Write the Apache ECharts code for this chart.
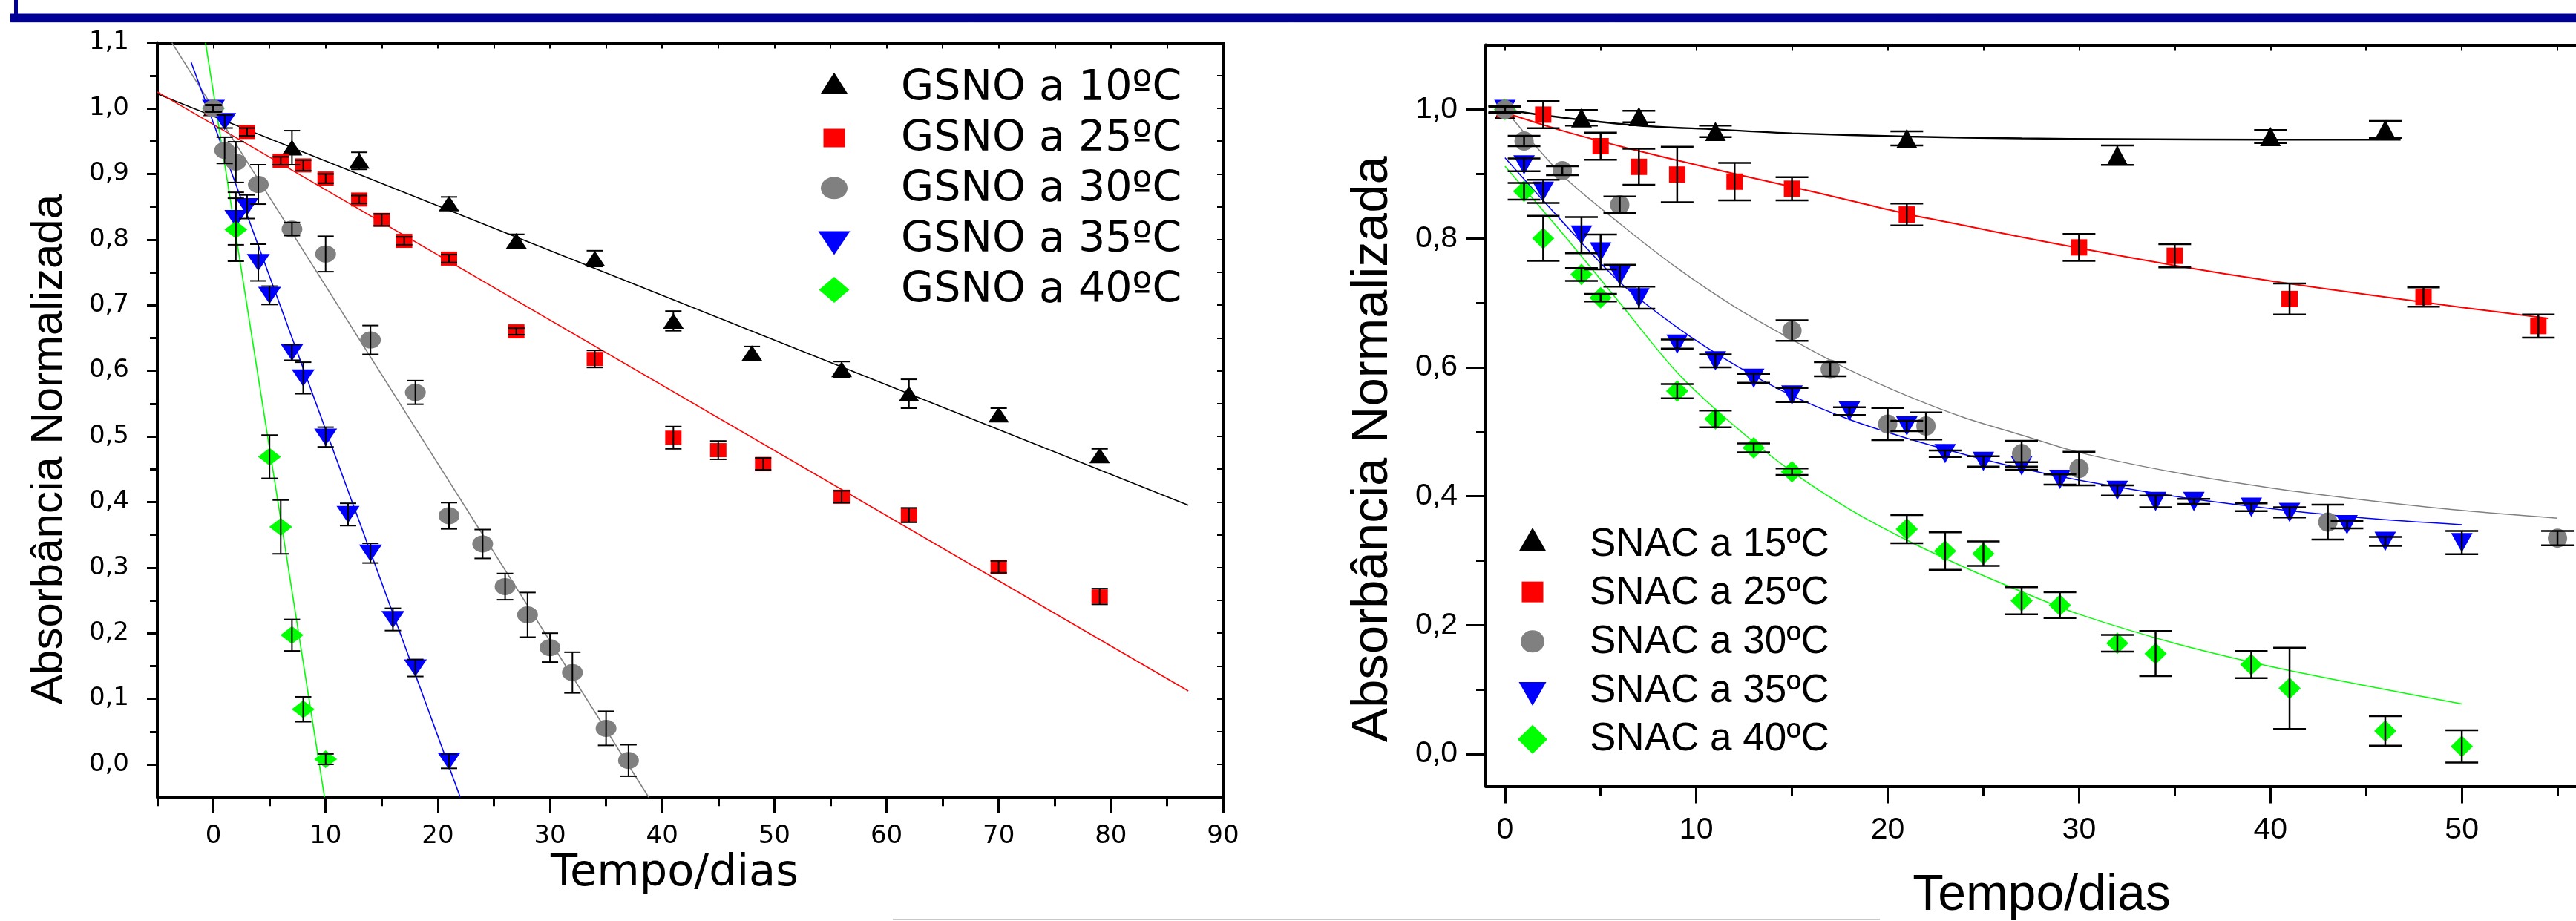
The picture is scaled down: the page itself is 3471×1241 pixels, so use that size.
<!DOCTYPE html>
<html lang="pt">
<head>
<meta charset="utf-8">
<title>Absorbância normalizada de GSNO e SNAC em função do tempo</title>
<script src="https://cdn.jsdelivr.net/npm/echarts@6.0.0/dist/echarts.min.js"></script>
<style>
  html, body { margin: 0; padding: 0; background: #ffffff; }
  #chart { width: 3471px; height: 1241px; }
</style>
</head>
<body>
<div id="chart"></div>
<script>
// ---------- GSNO (painel esquerdo) ----------
const gsnoDias10 = [0, 7, 13, 21, 27, 34, 41, 48, 56, 62, 70, 79];
const gsnoAbs10  = [1.0, 0.940, 0.920, 0.855, 0.798, 0.771, 0.676, 0.627, 0.602, 0.565, 0.533, 0.471];
const gsnoErr10  = [0.005, 0.026, 0.013, 0.010, 0.010, 0.012, 0.015, 0.010, 0.012, 0.022, 0.010, 0.010];

const gsnoDias25 = [0, 3, 6, 8, 10, 13, 15, 17, 21, 27, 34, 41, 45, 49, 56, 62, 70, 79];
const gsnoAbs25  = [1.0, 0.964, 0.920, 0.913, 0.893, 0.861, 0.830, 0.798, 0.771, 0.660, 0.618, 0.498, 0.479, 0.458, 0.408, 0.380, 0.301, 0.256];
const gsnoErr25  = [0.005, 0.006, 0.006, 0.008, 0.007, 0.006, 0.009, 0.006, 0.006, 0.005, 0.013, 0.017, 0.014, 0.009, 0.009, 0.011, 0.009, 0.012];

const gsnoDias30 = [0, 1, 2, 4, 7, 10, 14, 18, 21, 24, 26, 28, 30, 32, 35, 37];
const gsnoAbs30  = [1.0, 0.936, 0.918, 0.884, 0.816, 0.778, 0.647, 0.567, 0.379, 0.336, 0.271, 0.228, 0.178, 0.140, 0.055, 0.006];
const gsnoErr30  = [0.005, 0.020, 0.031, 0.030, 0.010, 0.027, 0.022, 0.018, 0.020, 0.022, 0.020, 0.034, 0.022, 0.031, 0.026, 0.024];

const gsnoDias35 = [0, 1, 2, 3, 4, 5, 7, 8, 10, 12, 14, 16, 18, 21];
const gsnoAbs35  = [1.0, 0.980, 0.832, 0.850, 0.765, 0.715, 0.628, 0.589, 0.499, 0.381, 0.322, 0.221, 0.147, 0.005];
const gsnoErr35  = [0.005, 0.010, 0.040, 0.018, 0.028, 0.014, 0.012, 0.024, 0.015, 0.017, 0.015, 0.017, 0.013, 0.011];

const gsnoDias40 = [0, 2, 5, 6, 7, 8, 10];
const gsnoAbs40  = [1.0, 0.815, 0.469, 0.362, 0.197, 0.084, 0.008];
const gsnoErr40  = [0.005, 0.048, 0.033, 0.041, 0.024, 0.019, 0.008];

// retas de ajuste (pontos extremos [dias, absorbância])
const ajusteGsno10 = [[-5, 1.022], [86.9, 0.395]];
const ajusteGsno25 = [[-5, 1.025], [86.9, 0.112]];
const ajusteGsno30 = [[-3.7, 1.1], [38.8, -0.05]];
const ajusteGsno35 = [[-2.0, 1.071], [22.0, -0.05]];
const ajusteGsno40 = [[-0.7, 1.1], [9.9, -0.05]];

// ---------- SNAC (painel direito) ----------
const snacDias15 = [0, 4, 7, 11, 21, 32, 40, 46];
const snacAbs15  = [1.0, 0.987, 0.989, 0.966, 0.955, 0.929, 0.958, 0.969];
const snacErr15  = [0.005, 0.012, 0.009, 0.009, 0.011, 0.015, 0.010, 0.013];

const snacDias25 = [0, 2, 5, 7, 9, 12, 15, 21, 30, 35, 41, 48, 54];
const snacAbs25  = [1.0, 0.992, 0.943, 0.911, 0.899, 0.888, 0.877, 0.837, 0.786, 0.773, 0.706, 0.709, 0.664];
const snacErr25  = [0.005, 0.021, 0.021, 0.028, 0.043, 0.029, 0.018, 0.017, 0.021, 0.018, 0.024, 0.015, 0.018];

const snacDias30 = [0, 1, 3, 6, 15, 17, 20, 22, 27, 30, 43, 55];
const snacAbs30  = [1.0, 0.951, 0.905, 0.852, 0.657, 0.597, 0.512, 0.509, 0.466, 0.443, 0.360, 0.335];
const snacErr30  = [0.005, 0.008, 0.007, 0.013, 0.016, 0.011, 0.025, 0.021, 0.020, 0.026, 0.027, 0.011];

const snacDias35 = [0, 1, 2, 4, 5, 6, 7, 9, 11, 13, 15, 18, 21, 23, 25, 27, 29, 32, 34, 36, 39, 41, 44, 46, 50];
const snacAbs35  = [1.0, 0.914, 0.873, 0.805, 0.779, 0.742, 0.708, 0.636, 0.610, 0.583, 0.557, 0.532, 0.509, 0.466, 0.454, 0.447, 0.426, 0.409, 0.392, 0.392, 0.383, 0.375, 0.356, 0.330, 0.328];
const snacErr35  = [0.005, 0.010, 0.018, 0.028, 0.027, 0.017, 0.017, 0.007, 0.010, 0.007, 0.011, 0.006, 0.008, 0.005, 0.008, 0.006, 0.008, 0.008, 0.009, 0.004, 0.006, 0.008, 0.006, 0.007, 0.018];

const snacDias40 = [0, 1, 2, 4, 5, 9, 11, 13, 15, 21, 23, 25, 27, 29, 32, 34, 39, 41, 46, 50];
const snacAbs40  = [1.0, 0.873, 0.800, 0.744, 0.708, 0.563, 0.520, 0.475, 0.438, 0.349, 0.315, 0.311, 0.238, 0.231, 0.172, 0.156, 0.139, 0.102, 0.036, 0.012];
const snacErr40  = [0.005, 0.013, 0.035, 0.010, 0.006, 0.011, 0.013, 0.007, 0.005, 0.022, 0.029, 0.019, 0.021, 0.020, 0.013, 0.035, 0.021, 0.063, 0.023, 0.025];

// curvas de ajuste lidas ao longo do traço
const ajusteSnac15Dias = [0, 2, 4, 7, 11, 15, 21, 27, 32, 40, 46.8];
const ajusteSnac15Abs  = [1.0, 0.991, 0.984, 0.975, 0.969, 0.963, 0.958, 0.955, 0.954, 0.953, 0.953];
const ajusteSnac25Dias = [0, 3, 6, 9, 12, 15, 18, 21, 24, 27, 30, 35, 40, 45, 50, 54.5];
const ajusteSnac25Abs  = [0.995, 0.967, 0.943, 0.921, 0.900, 0.880, 0.859, 0.838, 0.820, 0.802, 0.785, 0.758, 0.734, 0.713, 0.693, 0.676];
const ajusteSnac30Dias = [0, 3, 6, 9, 12, 15, 18, 21, 24, 27, 30, 35, 40, 45, 50, 55];
const ajusteSnac30Abs  = [1.0, 0.898, 0.823, 0.754, 0.694, 0.643, 0.596, 0.556, 0.522, 0.495, 0.468, 0.437, 0.413, 0.394, 0.378, 0.366];
const ajusteSnac35Dias = [0, 3, 6, 9, 12, 15, 18, 21, 24, 27, 30, 35, 40, 45, 50];
const ajusteSnac35Abs  = [0.925, 0.826, 0.732, 0.662, 0.604, 0.556, 0.519, 0.490, 0.465, 0.443, 0.425, 0.400, 0.381, 0.366, 0.356];
const ajusteSnac40Dias = [0, 3, 6, 9, 12, 15, 18, 21, 24, 27, 30, 35, 40, 45, 50];
const ajusteSnac40Abs  = [0.912, 0.808, 0.700, 0.592, 0.509, 0.438, 0.380, 0.332, 0.290, 0.252, 0.217, 0.172, 0.136, 0.106, 0.078];

// ---------- marcas dos eixos ----------
const gsnoTicksX      = [0, 10, 20, 30, 40, 50, 60, 70, 80, 90];
const gsnoTicksXMenor = [-5, 5, 15, 25, 35, 45, 55, 65, 75, 85];
const gsnoTicksY      = [0, 0.1, 0.2, 0.3, 0.4, 0.5, 0.6, 0.7, 0.8, 0.9, 1.0, 1.1];
const gsnoTicksYMenor = [0.05, 0.15, 0.25, 0.35, 0.45, 0.55, 0.65, 0.75, 0.85, 0.95, 1.05];
const snacTicksX      = [0, 10, 20, 30, 40, 50, 60];
const snacTicksXMenor = [5, 15, 25, 35, 45, 55];
const snacTicksY      = [0, 0.2, 0.4, 0.6, 0.8, 1.0];
const snacTicksYMenor = [0.1, 0.3, 0.5, 0.7, 0.9];

const FONT_LARGA = "'DejaVu Sans', sans-serif";
const FONT_ARIAL = "'Liberation Sans', Arial, sans-serif";
const PRETO = '#000000';

// símbolos (ECharts estica-os para symbolSize [largura, altura])
const SIMB = {
  cima: 'triangle',
  baixo: 'path://M0,0L2,0L1,2Z',
  quadrado: 'rect',
  elipse: 'path://M0,1A1,1,0,1,1,2,1A1,1,0,1,1,0,1Z',
  losango: 'diamond'
};

// ícones da legenda: caixa fixa (M0,0 / M w,h) com a forma deslocada dentro
const iconesGsno = [
  'path://M0,0M44,56M22,5.7L40.5,34.7L3.5,34.7Z',
  'path://M0,0M44,56M7.5,13.5H36.5V38.5H7.5Z',
  'path://M0,0M44,56M4,25.3A18,15,0,1,1,40,25.3A18,15,0,1,1,4,25.3Z',
  'path://M0,0M44,56M0.5,15.5L43.5,15.5L22,47.5Z',
  'path://M0,0M44,56M22,9L42.5,26.5L22,44L1.5,26.5Z'
];
const iconesSnac = [
  'path://M0,0M44,54M22,3.9L40.5,35.9L3.5,35.9Z',
  'path://M0,0M44,54M7.5,10.9H36.5V38.9H7.5Z',
  'path://M0,0M44,54M6,25.9A16,15,0,1,1,38,25.9A16,15,0,1,1,6,25.9Z',
  'path://M0,0M44,54M3.5,14.9L40.5,14.9L22,46.9Z',
  'path://M0,0M44,54M22,6.9L42,26.4L22,45.9L2,26.4Z'
];

const virgula = v => Number(v).toFixed(1).replace('.', ',');
const pares = (xs, ys) => xs.map((x, i) => [x, ys[i]]);

function pontos(nome, dias, abs, simbolo, tamanho, cor, xi, yi) {
  return {
    name: nome, type: 'scatter', xAxisIndex: xi, yAxisIndex: yi, z: 3,
    data: pares(dias, abs), symbol: simbolo, symbolSize: tamanho,
    itemStyle: { color: cor, opacity: 1 }, emphasis: { disabled: true }
  };
}

function ajuste(nome, dados, cor, largura, xi, yi, suave) {
  return {
    name: nome, type: 'line', xAxisIndex: xi, yAxisIndex: yi, z: 2,
    data: dados, showSymbol: false, symbol: 'none', silent: true,
    smooth: suave ? 0.3 : false,
    lineStyle: { color: cor, width: largura }, clip: true
  };
}

function barrasErro(dias, abs, err, meiaBarra, largura, xi, yi) {
  return {
    type: 'custom', xAxisIndex: xi, yAxisIndex: yi, z: 4, silent: true,
    encode: { x: 0, y: 1 },
    data: dias.map((t, i) => [t, abs[i], err[i]]),
    renderItem: (params, api) => {
      const t = api.value(0), v = api.value(1), e = api.value(2);
      const alto = api.coord([t, v + e]);
      const baixo = api.coord([t, v - e]);
      const st = { stroke: PRETO, lineWidth: largura };
      return {
        type: 'group',
        children: [
          { type: 'line', shape: { x1: alto[0], y1: alto[1], x2: baixo[0], y2: baixo[1] }, style: st },
          { type: 'line', shape: { x1: alto[0] - meiaBarra, y1: alto[1], x2: alto[0] + meiaBarra, y2: alto[1] }, style: st },
          { type: 'line', shape: { x1: baixo[0] - meiaBarra, y1: baixo[1], x2: baixo[0] + meiaBarra, y2: baixo[1] }, style: st }
        ]
      };
    }
  };
}

const semGrade = { show: false };

const option = {
  animation: false,
  backgroundColor: '#ffffff',
  grid: [
    { left: 212, top: 57.6, width: 1436, height: 1016.6, containLabel: false, outerBoundsMode: 'none' },
    { left: 2002, top: 60.6, width: 1573, height: 999, containLabel: false, outerBoundsMode: 'none' }
  ],
  xAxis: [
    { // GSNO: eixo inferior, marcas principais e rótulos
      gridIndex: 0, type: 'value', min: -5, max: 90, position: 'bottom',
      splitLine: semGrade,
      axisLine: { show: true, onZero: false, lineStyle: { color: PRETO, width: 4 } },
      axisTick: { show: true, customValues: gsnoTicksX, length: 21, lineStyle: { color: PRETO, width: 3 } },
      axisLabel: { show: true, customValues: gsnoTicksX, margin: 36, color: PRETO, fontFamily: FONT_LARGA, fontSize: 34 },
      name: 'Tempo/dias', nameLocation: 'middle', nameGap: 74, nameMoveOverlap: false,
      nameTextStyle: { color: PRETO, fontFamily: FONT_LARGA, fontSize: 59, padding: [0, 42, 0, 0] }
    },
    { // GSNO: marcas secundárias
      gridIndex: 0, type: 'value', min: -5, max: 90, position: 'bottom', splitLine: semGrade,
      axisLine: { show: false, onZero: false },
      axisTick: { show: true, customValues: gsnoTicksXMenor, length: 12, lineStyle: { color: PRETO, width: 3 } },
      axisLabel: { show: false }
    },
    { // GSNO: moldura superior
      gridIndex: 0, type: 'value', min: -5, max: 90, position: 'top', splitLine: semGrade,
      axisLine: { show: true, onZero: false, lineStyle: { color: PRETO, width: 4 } },
      axisTick: { show: true, inside: true, customValues: gsnoTicksX.concat(gsnoTicksXMenor), length: 8, lineStyle: { color: PRETO, width: 2 } },
      axisLabel: { show: false }
    },
    { // SNAC: eixo inferior
      gridIndex: 1, type: 'value', min: -1, max: 60, position: 'bottom', splitLine: semGrade,
      axisLine: { show: true, onZero: false, lineStyle: { color: PRETO, width: 4 } },
      axisTick: { show: true, customValues: snacTicksX, length: 23, lineStyle: { color: PRETO, width: 3 } },
      axisLabel: { show: true, customValues: snacTicksX, margin: 39, color: PRETO, fontFamily: FONT_ARIAL, fontSize: 41 },
      name: 'Tempo/dias', nameLocation: 'middle', nameGap: 114, nameMoveOverlap: false,
      nameTextStyle: { color: PRETO, fontFamily: FONT_ARIAL, fontSize: 68, padding: [0, 75, 0, 0] }
    },
    { // SNAC: marcas secundárias
      gridIndex: 1, type: 'value', min: -1, max: 60, position: 'bottom', splitLine: semGrade,
      axisLine: { show: false, onZero: false },
      axisTick: { show: true, customValues: snacTicksXMenor, length: 13, lineStyle: { color: PRETO, width: 3 } },
      axisLabel: { show: false }
    },
    { // SNAC: moldura superior
      gridIndex: 1, type: 'value', min: -1, max: 60, position: 'top', splitLine: semGrade,
      axisLine: { show: true, onZero: false, lineStyle: { color: PRETO, width: 4 } },
      axisTick: { show: true, inside: true, customValues: snacTicksX.concat(snacTicksXMenor), length: 8, lineStyle: { color: PRETO, width: 2 } },
      axisLabel: { show: false }
    }
  ],
  yAxis: [
    { // GSNO: eixo esquerdo
      gridIndex: 0, type: 'value', min: -0.05, max: 1.1, position: 'left', splitLine: semGrade,
      axisLine: { show: true, onZero: false, lineStyle: { color: PRETO, width: 4 } },
      axisTick: { show: true, customValues: gsnoTicksY, length: 14, lineStyle: { color: PRETO, width: 3 } },
      axisLabel: { show: true, customValues: gsnoTicksY, formatter: virgula, margin: 38, color: PRETO, fontFamily: FONT_LARGA, fontSize: 34 },
      name: 'Absorbância Normalizada', nameLocation: 'middle', nameGap: 116, nameMoveOverlap: false,
      nameTextStyle: { color: PRETO, fontFamily: FONT_ARIAL, fontSize: 60, padding: [0, 79, 0, 0] }
    },
    { // GSNO: marcas secundárias
      gridIndex: 0, type: 'value', min: -0.05, max: 1.1, position: 'left', splitLine: semGrade,
      axisLine: { show: false, onZero: false },
      axisTick: { show: true, customValues: gsnoTicksYMenor, length: 10, lineStyle: { color: PRETO, width: 3 } },
      axisLabel: { show: false }
    },
    { // GSNO: moldura direita
      gridIndex: 0, type: 'value', min: -0.05, max: 1.1, position: 'right', splitLine: semGrade,
      axisLine: { show: true, onZero: false, lineStyle: { color: PRETO, width: 3 } },
      axisTick: { show: true, inside: true, customValues: gsnoTicksY.concat(gsnoTicksYMenor), length: 8, lineStyle: { color: PRETO, width: 2 } },
      axisLabel: { show: false }
    },
    { // SNAC: eixo esquerdo
      gridIndex: 1, type: 'value', min: -0.05, max: 1.1, position: 'left', splitLine: semGrade,
      axisLine: { show: true, onZero: false, lineStyle: { color: PRETO, width: 4 } },
      axisTick: { show: true, customValues: snacTicksY, length: 27, lineStyle: { color: PRETO, width: 3 } },
      axisLabel: { show: true, customValues: snacTicksY, formatter: virgula, margin: 38, color: PRETO, fontFamily: FONT_ARIAL, fontSize: 41 },
      name: 'Absorbância Normalizada', nameLocation: 'middle', nameGap: 118, nameMoveOverlap: false,
      nameTextStyle: { color: PRETO, fontFamily: FONT_ARIAL, fontSize: 69, padding: [0, 90, 0, 0] }
    },
    { // SNAC: marcas secundárias
      gridIndex: 1, type: 'value', min: -0.05, max: 1.1, position: 'left', splitLine: semGrade,
      axisLine: { show: false, onZero: false },
      axisTick: { show: true, customValues: snacTicksYMenor, length: 13, lineStyle: { color: PRETO, width: 3 } },
      axisLabel: { show: false }
    }
  ],
  legend: [
    {
      orient: 'vertical', left: 1102, top: 91.5, padding: 0, itemGap: 11,
      itemWidth: 44, itemHeight: 56, symbolKeepAspect: true, selectedMode: false,
      textStyle: { color: PRETO, fontFamily: FONT_LARGA, fontSize: 57, lineHeight: 56, padding: [0, 0, 0, 63] },
      data: [
        { name: 'GSNO a 10ºC', icon: iconesGsno[0] },
        { name: 'GSNO a 25ºC', icon: iconesGsno[1] },
        { name: 'GSNO a 30ºC', icon: iconesGsno[2] },
        { name: 'GSNO a 35ºC', icon: iconesGsno[3] },
        { name: 'GSNO a 40ºC', icon: iconesGsno[4] }
      ]
    },
    {
      orient: 'vertical', left: 2043, top: 707, padding: 0, itemGap: 11.7,
      itemWidth: 44, itemHeight: 54, symbolKeepAspect: true, selectedMode: false,
      textStyle: { color: PRETO, fontFamily: FONT_ARIAL, fontSize: 53, lineHeight: 54, padding: [0, 0, 0, 50] },
      data: [
        { name: 'SNAC a 15ºC', icon: iconesSnac[0] },
        { name: 'SNAC a 25ºC', icon: iconesSnac[1] },
        { name: 'SNAC a 30ºC', icon: iconesSnac[2] },
        { name: 'SNAC a 35ºC', icon: iconesSnac[3] },
        { name: 'SNAC a 40ºC', icon: iconesSnac[4] }
      ]
    }
  ],
  graphic: [
    // faixa azul do cabeçalho
    { type: 'rect', silent: true, shape: { x: 19, y: 0, width: 5, height: 19 }, style: { fill: '#000099' } },
    { type: 'line', silent: true, shape: { x1: 24, y1: 17.5, x2: 3471, y2: 17.5 }, style: { stroke: '#c8c8e4', lineWidth: 1 } },
    { type: 'rect', silent: true, shape: { x: 14, y: 18.5, width: 3457, height: 11 }, style: { fill: '#000099' } },
    { type: 'line', silent: true, shape: { x1: 14, y1: 30, x2: 3471, y2: 30 }, style: { stroke: '#a8a8d4', lineWidth: 1 } },
    // filete cinzento no rodapé
    { type: 'line', silent: true, shape: { x1: 1203, y1: 1239, x2: 2533, y2: 1239 }, style: { stroke: '#c8c8c8', lineWidth: 2 } }
  ],
  series: [
    // ajustes lineares GSNO
    ajuste('Ajuste GSNO 10ºC', ajusteGsno10, '#000000', 1.6, 0, 0, false),
    ajuste('Ajuste GSNO 25ºC', ajusteGsno25, '#ff0000', 1.6, 0, 0, false),
    ajuste('Ajuste GSNO 30ºC', ajusteGsno30, '#808080', 1.6, 0, 0, false),
    ajuste('Ajuste GSNO 35ºC', ajusteGsno35, '#0000ff', 1.6, 0, 0, false),
    ajuste('Ajuste GSNO 40ºC', ajusteGsno40, '#00ff00', 1.6, 0, 0, false),
    // pontos GSNO (os círculos cinzentos ficam por cima)
    pontos('GSNO a 10ºC', gsnoDias10, gsnoAbs10, SIMB.cima, [28, 21], '#000000', 0, 0),
    pontos('GSNO a 25ºC', gsnoDias25, gsnoAbs25, SIMB.quadrado, [22, 19], '#ff0000', 0, 0),
    pontos('GSNO a 35ºC', gsnoDias35, gsnoAbs35, SIMB.baixo, [31, 23], '#0000ff', 0, 0),
    pontos('GSNO a 40ºC', gsnoDias40, gsnoAbs40, SIMB.losango, [31, 24], '#00ff00', 0, 0),
    pontos('GSNO a 30ºC', gsnoDias30, gsnoAbs30, SIMB.elipse, [28, 23], '#808080', 0, 0),
    // barras de erro GSNO
    barrasErro(gsnoDias10, gsnoAbs10, gsnoErr10, 11, 2, 0, 0),
    barrasErro(gsnoDias25, gsnoAbs25, gsnoErr25, 11, 2, 0, 0),
    barrasErro(gsnoDias30, gsnoAbs30, gsnoErr30, 11, 2, 0, 0),
    barrasErro(gsnoDias35, gsnoAbs35, gsnoErr35, 11, 2, 0, 0),
    barrasErro(gsnoDias40, gsnoAbs40, gsnoErr40, 11, 2, 0, 0),

    // curvas de ajuste SNAC
    ajuste('Ajuste SNAC 15ºC', pares(ajusteSnac15Dias, ajusteSnac15Abs), '#000000', 2.4, 3, 3, true),
    ajuste('Ajuste SNAC 25ºC', pares(ajusteSnac25Dias, ajusteSnac25Abs), '#ff0000', 2.0, 3, 3, true),
    ajuste('Ajuste SNAC 30ºC', pares(ajusteSnac30Dias, ajusteSnac30Abs), '#808080', 1.5, 3, 3, true),
    ajuste('Ajuste SNAC 35ºC', pares(ajusteSnac35Dias, ajusteSnac35Abs), '#0000ff', 1.5, 3, 3, true),
    ajuste('Ajuste SNAC 40ºC', pares(ajusteSnac40Dias, ajusteSnac40Abs), '#00ff00', 1.5, 3, 3, true),
    // pontos SNAC (os círculos cinzentos ficam por cima)
    pontos('SNAC a 15ºC', snacDias15, snacAbs15, SIMB.cima, [28, 26], '#000000', 3, 3),
    pontos('SNAC a 25ºC', snacDias25, snacAbs25, SIMB.quadrado, [22, 22], '#ff0000', 3, 3),
    pontos('SNAC a 35ºC', snacDias35, snacAbs35, SIMB.baixo, [29, 26], '#0000ff', 3, 3),
    pontos('SNAC a 40ºC', snacDias40, snacAbs40, SIMB.losango, [30, 29], '#00ff00', 3, 3),
    pontos('SNAC a 30ºC', snacDias30, snacAbs30, SIMB.elipse, [26, 26], '#808080', 3, 3),
    // barras de erro SNAC
    barrasErro(snacDias15, snacAbs15, snacErr15, 22, 2.5, 3, 3),
    barrasErro(snacDias25, snacAbs25, snacErr25, 22, 2.5, 3, 3),
    barrasErro(snacDias30, snacAbs30, snacErr30, 22, 2.5, 3, 3),
    barrasErro(snacDias35, snacAbs35, snacErr35, 22, 2.5, 3, 3),
    barrasErro(snacDias40, snacAbs40, snacErr40, 22, 2.5, 3, 3)
  ]
};

const chart = echarts.init(document.getElementById('chart'), null, { renderer: 'canvas', width: 3471, height: 1241 });
chart.setOption(option);
</script>
</body>
</html>
